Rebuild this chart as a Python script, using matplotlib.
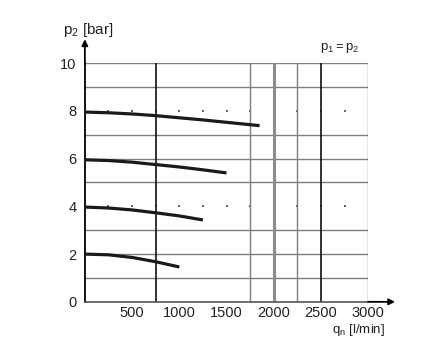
import matplotlib.pyplot as plt

plt.rcParams['font.family'] = 'Liberation Sans'
plt.rcParams['mathtext.fontset'] = 'custom'
plt.rcParams['mathtext.rm'] = 'Liberation Sans'
plt.rcParams['mathtext.it'] = 'Liberation Sans'

# flow curves for inlet pressure = outlet pressure settings
flow_8 = [0, 250, 500, 750, 1000, 1250, 1500, 1850]
p2_8 = [7.95, 7.92, 7.87, 7.80, 7.71, 7.62, 7.52, 7.38]
flow_6 = [0, 250, 500, 750, 1000, 1250, 1500]
p2_6 = [5.95, 5.92, 5.85, 5.75, 5.65, 5.53, 5.40]
flow_4 = [0, 250, 500, 750, 1000, 1250]
p2_4 = [3.97, 3.93, 3.85, 3.73, 3.60, 3.43]
flow_2 = [0, 250, 500, 750, 1000]
p2_2 = [2.00, 1.97, 1.86, 1.68, 1.46]

xticks = [500, 1000, 1500, 2000, 2500, 3000]
yticks = [0, 2, 4, 6, 8, 10]
grid_rows = [1, 2, 3, 5, 6, 7, 9, 10]
dot_rows = [4, 8]
dot_cols = [250, 500, 750, 1000, 1250, 1500, 1750, 2000, 2250, 2500, 2750]
black_cols = [750, 2500]
gray_cols = [1750, 2250, 3000]
thick_cols = [2000]

fig = plt.figure(figsize=(4.42, 3.43), dpi=100)
ax = fig.add_axes([0.192, 0.12, 0.641, 0.696])
ax.set_xlim(0, 3000)
ax.set_ylim(0, 10)

for y in grid_rows:
    ax.axhline(y, color='#7f7f7f', lw=1.0, zorder=1)
for y in dot_rows:
    ax.scatter(dot_cols, [y] * len(dot_cols), s=0.8, color='#666666',
               marker='s', zorder=1, linewidths=0)
for x in gray_cols:
    ax.axvline(x, color='#7f7f7f', lw=1.0, zorder=1)
for x in thick_cols:
    ax.axvline(x, color='#8c8c8c', lw=2.2, zorder=1)
for x in black_cols:
    ax.axvline(x, color='#111111', lw=1.2, zorder=2)

for fx, fy in [(flow_8, p2_8), (flow_6, p2_6), (flow_4, p2_4), (flow_2, p2_2)]:
    ax.plot(fx, fy, color='#1a1a1a', lw=2.3, solid_capstyle='butt', zorder=3)

for s in ['top', 'right']:
    ax.spines[s].set_visible(False)
ax.spines['left'].set_color('black')
ax.spines['left'].set_linewidth(1.3)
ax.spines['bottom'].set_color('#555555')
ax.spines['bottom'].set_linewidth(1.2)

ax.set_xticks(xticks)
ax.set_yticks(yticks)
ax.tick_params(length=0, labelsize=10.5, colors='#222222')
ax.tick_params(axis='x', pad=3)
ax.tick_params(axis='y', pad=6)

# axis arrows
ax.annotate('', xy=(0, 1.1), xytext=(0, 1.0), xycoords='axes fraction',
            arrowprops=dict(arrowstyle='-|>', color='black', lw=1.3,
                            mutation_scale=9, shrinkA=0, shrinkB=0))
ax.annotate('', xy=(1.095, 0), xytext=(1.0, 0), xycoords='axes fraction',
            arrowprops=dict(arrowstyle='-|>', color='black', lw=1.3,
                            mutation_scale=9, shrinkA=0, shrinkB=0))

fig.text(0.142, 0.9, r'$\mathregular{p_2}$ [bar]', fontsize=11, color='#222222')
fig.text(0.725, 0.855, r'$\mathregular{p_1 = p_2}$', fontsize=9.5, color='#222222')
fig.text(0.75, 0.028, r'$\mathregular{q_n}$ [l/min]', fontsize=9.5, color='#222222')

fig.savefig('out.png', dpi=100)
